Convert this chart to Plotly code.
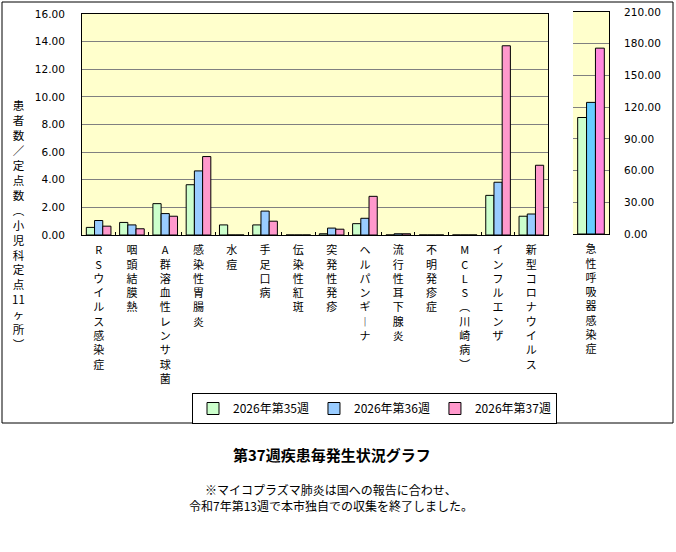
import plotly.graph_objects as go

W, H = 676, 552

categories = ["RSウイルス感染症", "咽頭結膜熱", "A群溶血性レンサ球菌", "感染性胃腸炎", "水痘",
              "手足口病", "伝染性紅斑", "突発性発疹", "ヘルパンギーナ", "流行性耳下腺炎",
              "不明発疹症", "MCLS（川崎病）", "インフルエンザ", "新型コロナウイルス"]
week35 = [0.55, 0.91, 2.27, 3.64, 0.73, 0.73, 0.00, 0.09, 0.82, 0.00, 0.00, 0.00, 2.87, 1.36]
week36 = [1.05, 0.73, 1.55, 4.64, 0.00, 1.73, 0.00, 0.50, 1.21, 0.09, 0.00, 0.00, 3.82, 1.52]
week37 = [0.64, 0.45, 1.36, 5.68, 0.00, 1.00, 0.00, 0.42, 2.80, 0.09, 0.00, 0.00, 13.70, 5.05]

ari_category = ["急性呼吸器感染症"]
ari35 = [110.2]
ari36 = [124.5]
ari37 = [175.8]

series_names = ["2026年第35週", "2026年第36週", "2026年第37週"]
left_colors = ["#CCFFCC", "#99CCFF", "#FF99CC"]
right_colors = ["#CCFFCC", "#66CCFF", "#FF88DD"]

y_title_tokens = ["患", "者", "数", "／", "定", "点", "数", "（", "小", "児", "科", "定", "点", "11", "ヶ", "所", "）"]
chart_title = "第37週疾患毎発生状況グラフ"
note_lines = ["※マイコプラズマ肺炎は国への報告に合わせ、", "令和7年第13週で本市独自での収集を終了しました。"]

VMAP = {"（": "︵", "）": "︶", "ー": "︱"}


def vertical(tokens):
    return "<br>".join(VMAP.get(t, t) for t in tokens)


JP = "Noto Sans CJK JP"
NUM = "DejaVu Sans"


def px_x(p):
    return p / W


def px_y(p):
    return 1 - p / H


fig = go.Figure()
for name, vals, col in zip(series_names, [week35, week36, week37], left_colors):
    fig.add_trace(go.Bar(x=categories, y=vals, name=name,
                         marker=dict(color=col, line=dict(color="black", width=1)),
                         xaxis="x", yaxis="y"))
for name, vals, col in zip(series_names, [ari35, ari36, ari37], right_colors):
    fig.add_trace(go.Bar(x=ari_category, y=vals, name=name, showlegend=False,
                         marker=dict(color=col, line=dict(color="black", width=1)),
                         xaxis="x2", yaxis="y2"))

fig.update_layout(
    width=W, height=H,
    margin=dict(l=0, r=0, t=0, b=0, autoexpand=False),
    paper_bgcolor="white",
    plot_bgcolor="#FFFFCC",
    barmode="group", bargap=0.26, bargroupgap=0,
    font=dict(family=JP, size=11, color="black"),
    xaxis=dict(domain=[px_x(82), px_x(548)], anchor="y", type="category",
               tickvals=categories, ticktext=[vertical(list(c)) for c in categories],
               tickfont=dict(family=JP, size=11), tickangle=0, ticklabelstandoff=5,
               ticklabeloverflow="allow",
               showline=True, linecolor="black", linewidth=1, mirror=True,
               ticks="inside", ticklen=3, tickcolor="black", tickson="boundaries",
               showgrid=False),
    yaxis=dict(domain=[px_y(235), px_y(14)], anchor="x", range=[0, 16], dtick=2, tickformat=".2f",
               tickfont=dict(family=NUM, size=10.5), ticks="", ticklabelstandoff=14,
               ticklabeloverflow="allow",
               showline=True, linecolor="black", linewidth=1, mirror=True,
               showgrid=True, gridcolor="#808080", gridwidth=1, zeroline=False),
    xaxis2=dict(domain=[px_x(573), px_x(609)], anchor="y2", type="category",
                tickvals=ari_category, ticktext=[vertical(list(c)) for c in ari_category],
                tickfont=dict(family=JP, size=11), tickangle=0, ticklabelstandoff=5,
                ticklabeloverflow="allow",
                showline=True, linecolor="black", linewidth=1, mirror=True,
                ticks="", showgrid=False),
    yaxis2=dict(domain=[px_y(234), px_y(12)], anchor="x2", side="right", range=[0, 210], dtick=30,
                tickformat=".2f", tickfont=dict(family=NUM, size=10.5), ticks="", ticklabelstandoff=12,
                ticklabeloverflow="allow",
                showline=True, linecolor="black", linewidth=1,
                showgrid=True, gridcolor="#808080", gridwidth=1, zeroline=False),
    legend=dict(orientation="h", x=px_x(192), y=px_y(393), xanchor="left", yanchor="top",
                bordercolor="black", borderwidth=1, bgcolor="white",
                font=dict(family=JP, size=12), itemwidth=30),
    showlegend=True,
)

fig.add_shape(type="rect", xref="paper", yref="paper",
              x0=px_x(2), x1=px_x(673), y0=px_y(423), y1=px_y(2),
              line=dict(color="black", width=1), layer="above")

fig.add_annotation(text=vertical(y_title_tokens), xref="paper", yref="paper",
                   x=px_x(18), y=px_y(224), xanchor="center", yanchor="middle",
                   showarrow=False, font=dict(family=JP, size=11.5))
fig.add_annotation(text="<b>" + chart_title + "</b>", xref="paper", yref="paper",
                   x=px_x(332), y=px_y(454), xanchor="center", yanchor="middle",
                   showarrow=False, font=dict(family=JP, size=15))
fig.add_annotation(text="<br>".join(note_lines), xref="paper", yref="paper",
                   x=px_x(331), y=px_y(497), xanchor="center", yanchor="middle",
                   showarrow=False, font=dict(family=JP, size=12))

# remove the default 8px page margin so the figure fills the window exactly
fig.write_html("out.html", config={"displayModeBar": False},
               post_script="document.body.style.margin='0';")
